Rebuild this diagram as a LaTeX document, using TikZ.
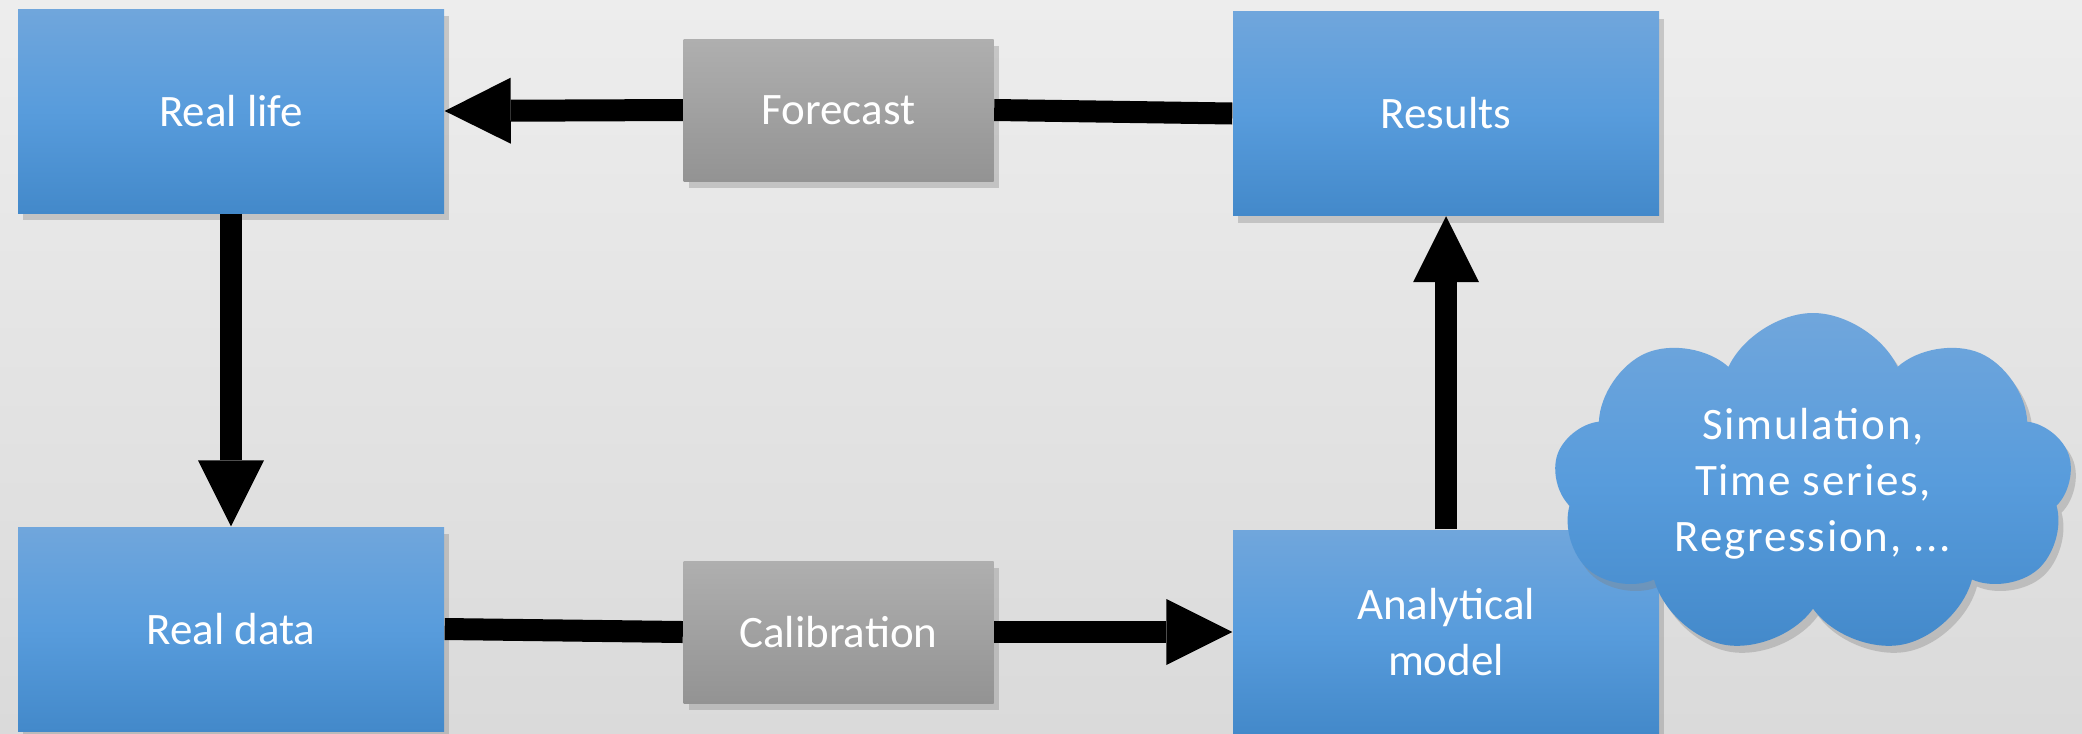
\documentclass[tikz,border=0pt]{standalone}
\usepackage{fontspec}
\setmainfont{Carlito}
\usetikzlibrary{arrows.meta,shapes.symbols,shadows}

\definecolor{bluetop}{RGB}{112,166,220}
\definecolor{bluemid}{RGB}{88,156,220}
\definecolor{bluebot}{RGB}{67,137,202}
\definecolor{greytop}{RGB}{175,175,175}
\definecolor{greybot}{RGB}{147,147,147}
\definecolor{bgtop}{RGB}{237,237,237}
\definecolor{bgbot}{RGB}{218,218,218}

\begin{document}
\begin{tikzpicture}
[
    box/.style={rectangle, minimum width=4.26cm, minimum height=2.04cm,
        top color=bluetop, bottom color=bluebot, middle color=bluemid,
        text=white, align=center, font=\fontsize{12.8}{16}\selectfont,
        drop shadow={shadow xshift=.5mm, shadow yshift=-.7mm, opacity=.35}},
    stage/.style={box, minimum width=3.1cm, minimum height=1.42cm,
        top color=greytop, bottom color=greybot, middle color=greytop!50!greybot},
    idea/.style={box, cloud, cloud puffs=9, cloud puff arc=130, aspect=1.5,
        minimum width=5.19cm, minimum height=3.42cm, inner sep=0pt},
    link/.style={line width=2.2mm},
    flow/.style={link, -{Triangle[length=6.6mm, width=6.6mm, line width=0pt]}}
]
    \shade [top color=bgtop, bottom color=bgbot] (0,0) rectangle (20.82,-7.33);
    \useasboundingbox (0,0) rectangle (20.82,-7.33);

    \node [box] (reallife) at (2.31,-1.11) {Real life};
    \node [stage] (forecast) at (8.385,-1.10) {Forecast};
    \node [box] (results) at (14.46,-1.135) {Results};

    \node [box] (realdata) at (2.31,-6.29) {Real data};
    \node [stage] (calibration) at (8.385,-6.32) {Calibration};
    \node [box] (analytical) at (14.46,-6.32) {Analytical\\model};
    \node [idea, font=\addfontfeature{LetterSpace=4}\fontsize{12.8}{16}\selectfont]
        (methods) at (18.13,-4.84) {Simulation,\\Time series,\\Regression, ...};

    \draw [link] (results.west) -- (forecast.east);
    \draw [flow] (forecast.west) -- (reallife.east);
    \draw [flow] (reallife.south) -- (realdata.north);
    \draw [link] (realdata.east) -- (calibration.west);
    \draw [flow] (calibration.east) -- (analytical.west);
    \draw [flow] (analytical.north) -- (results.south);
\end{tikzpicture}
\end{document}
